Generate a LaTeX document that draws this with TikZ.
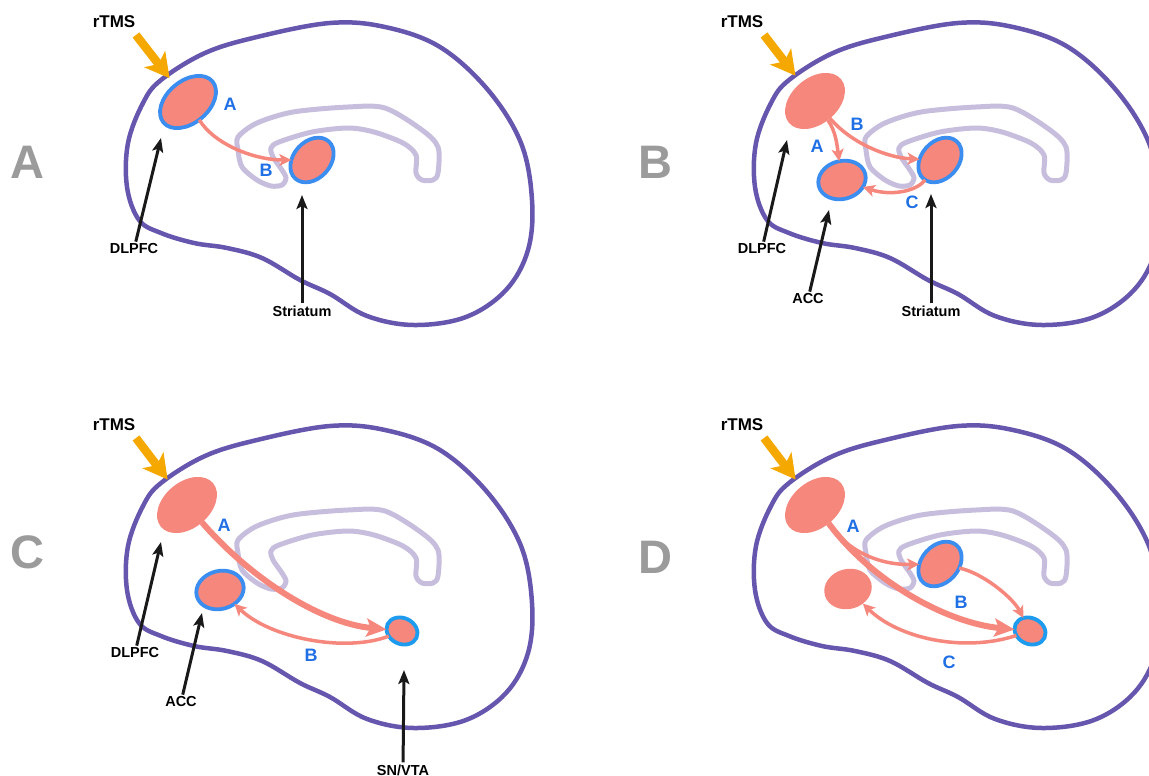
\documentclass[tikz,border=0pt]{standalone}
\usepackage{fontspec}
\setmainfont{Liberation Sans}
\usepackage{tikz}
\usetikzlibrary{arrows.meta,shapes.geometric}

\definecolor{cortex}{HTML}{6656AE}
\definecolor{callosum}{HTML}{C7BEDE}
\definecolor{roi}{HTML}{F5877D}
\definecolor{roiedge}{HTML}{3B8DF0}
\definecolor{snedge}{HTML}{1C9BEF}
\definecolor{pathlbl}{HTML}{1F6FE5}
\definecolor{coil}{HTML}{F5A800}
\definecolor{panelgray}{HTML}{9B9B9B}

% hemisphere outline + corpus callosum, same in every panel
\newcommand{\hemisphere}{%
  \draw[cortex, line width=4.5pt] plot[smooth cycle, tension=0.6] coordinates {
    (161,-80) (205,-53) (257,-37) (330,-23) (385,-27) (440,-47) (488,-90)
    (521,-143) (532,-200) (528,-250) (506,-290) (466,-317) (414,-325)
    (367,-316) (330,-294) (300,-280) (262,-258) (227,-248) (194,-243)
    (161,-233) (139,-220) (127,-187) (128,-143) (143,-103)};
  \draw[callosum, line width=5pt] plot[smooth cycle, tension=0.5] coordinates {
    (238,-137) (257,-123) (293,-112) (348,-107) (385,-108) (422,-130)
    (438,-147) (438,-173) (433,-180) (422,-180) (416,-173) (416,-155)
    (403,-143) (374,-132) (348,-128) (312,-132) (279,-142) (271,-148)
    (273,-157) (282,-170) (286,-178) (282,-185) (271,-186) (257,-180)
    (242,-167) (238,-150)};
}

\begin{document}
\begin{tikzpicture}[x=1pt, y=1pt, font=\bfseries,
    region/.style={ellipse, fill=roi, inner sep=0pt, outer sep=0pt},
    marked/.style={region, draw=roiedge, line width=3.8pt},
    flow/.style={roi, line width=3.5pt, -{Stealth[length=12pt,width=12pt,inset=3pt]}},
    bigflow/.style={roi, line width=6pt, -{Stealth[length=20pt,width=18pt,inset=4pt]}},
    pointer/.style={black!90, line width=3pt, -{Stealth[length=14pt,width=11pt,inset=3pt]}},
    pulse/.style={coil, line width=8.5pt, shorten >=9pt, -{Stealth[length=24pt,width=26pt,inset=6pt]}},
    area/.style={font=\bfseries\fontsize{14.5}{16}\selectfont, inner sep=2pt},
    pathtag/.style={text=pathlbl, font=\bfseries\fontsize{18}{20}\selectfont},
    paneltag/.style={text=panelgray, font=\bfseries\fontsize{47}{50}\selectfont},
    coiltag/.style={font=\bfseries\fontsize{17}{19}\selectfont}]
  \useasboundingbox (0,0) rectangle (1149,-776);

  \node[paneltag] (pA) at (27,-162) {A};
  \node[paneltag] (pB) at (655,-162) {B};
  \node[paneltag] (pC) at (27,-552) {C};
  \node[paneltag] (pD) at (655,-557) {D};

  %panel A: DLPFC -> striatum
  \begin{scope}
    \hemisphere
    \node[marked, minimum width=64pt, minimum height=42pt, rotate=40] (dlA) at (188,-102) {};
    \node[marked, minimum width=50pt, minimum height=37pt, rotate=48] (strA) at (312,-160) {};
    \node[coiltag] (rtmsA) at (114,-22) {rTMS};
    \coordinate (coilA) at (136,-35);
    \draw[pulse] (coilA) -- (dlA);
    \draw[flow] (dlA) .. controls (215,-145) and (255,-160) .. (strA);
    \node[pathtag] (aA) at (230,-104) {A};
    \node[pathtag] (bA) at (266,-170) {B};
    \node[area] (dlLblA) at (134,-249) {DLPFC};
    \node[area] (strLblA) at (302,-311) {Striatum};
    \coordinate (dlTipA) at (161,-138);
    \coordinate (strTipA) at (302,-195);
    \draw[pointer] (dlLblA) -- (dlTipA);
    \draw[pointer] (strLblA) -- (strTipA);
  \end{scope}

  %panel B: DLPFC -> ACC, DLPFC -> striatum -> ACC
  \begin{scope}[shift={(628,0)}]
    \hemisphere
    \node[region, minimum width=68pt, minimum height=46pt, rotate=40] (dlB) at (187,-101) {};
    \node[marked, minimum width=48pt, minimum height=38pt, rotate=15] (accB) at (214,-180) {};
    \node[marked, minimum width=50pt, minimum height=37pt, rotate=48] (strB) at (312,-160) {};
    \node[coiltag] (rtmsB) at (114,-22) {rTMS};
    \coordinate (coilB) at (136,-35);
    \draw[pulse] (coilB) -- (dlB);
    \draw[flow] (dlB) .. controls (208,-132) and (209,-145) .. (accB);
    \draw[flow] (dlB) .. controls (225,-145) and (262,-158) .. (strB);
    \draw[flow] (strB) .. controls (288,-192) and (262,-196) .. (accB);
    \node[pathtag] (aB) at (189,-146) {A};
    \node[pathtag] (bB) at (229,-124) {B};
    \node[pathtag] (cB) at (284,-202) {C};
    \node[area] (dlLblB) at (134,-249) {DLPFC};
    \node[area] (accLblB) at (180,-299) {ACC};
    \node[area] (strLblB) at (303,-311) {Striatum};
    \coordinate (dlTipB) at (159,-140);
    \coordinate (accTipB) at (201,-210);
    \coordinate (strTipB) at (303,-194);
    \draw[pointer] (dlLblB) -- (dlTipB);
    \draw[pointer] (accLblB) -- (accTipB);
    \draw[pointer] (strLblB) -- (strTipB);
  \end{scope}

  %panel C: DLPFC -> SN/VTA -> ACC
  \begin{scope}[shift={(0,-403)}]
    \hemisphere
    \node[region, minimum width=68pt, minimum height=46pt, rotate=40] (dlC) at (187,-102) {};
    \node[marked, minimum width=48pt, minimum height=38pt, rotate=15] (accC) at (220,-187) {};
    \node[marked, draw=snedge, minimum width=32pt, minimum height=26pt, rotate=-25] (snC) at (402,-228) {};
    \node[coiltag] (rtmsC) at (114,-22) {rTMS};
    \coordinate (coilC) at (136,-35);
    \draw[pulse] (coilC) -- (dlC);
    \draw[bigflow] (dlC) .. controls (250,-175) and (320,-220) .. (snC);
    \draw[flow] (snC) .. controls (345,-250) and (270,-235) .. (accC);
    \node[pathtag] (aC) at (224,-122) {A};
    \node[pathtag] (bC) at (311,-252) {B};
    \node[area] (dlLblC) at (135,-250) {DLPFC};
    \node[area] (accLblC) at (181,-299) {ACC};
    \node[area] (snLblC) at (403,-367) {SN/VTA};
    \coordinate (dlTipC) at (161,-139);
    \coordinate (accTipC) at (202,-210);
    \coordinate (snTipC) at (404,-267);
    \draw[pointer] (dlLblC) -- (dlTipC);
    \draw[pointer] (accLblC) -- (accTipC);
    \draw[pointer] (snLblC) -- (snTipC);
  \end{scope}

  %panel D: DLPFC -> striatum -> SN/VTA, DLPFC -> SN/VTA -> ACC
  \begin{scope}[shift={(628,-403)}]
    \hemisphere
    \node[region, minimum width=68pt, minimum height=46pt, rotate=40] (dlD) at (187,-102) {};
    \node[region, minimum width=48pt, minimum height=40pt, rotate=15] (accD) at (220,-186) {};
    \node[marked, minimum width=50pt, minimum height=37pt, rotate=48] (strD) at (312,-161) {};
    \node[marked, draw=snedge, minimum width=32pt, minimum height=26pt, rotate=-25] (snD) at (402,-228) {};
    \node[coiltag] (rtmsD) at (114,-22) {rTMS};
    \coordinate (coilD) at (136,-35);
    \draw[pulse] (coilD) -- (dlD);
    \draw[flow] (dlD) .. controls (220,-148) and (250,-162) .. (strD);
    \draw[bigflow] (dlD) .. controls (245,-180) and (320,-220) .. (snD);
    \draw[flow] (strD) .. controls (355,-170) and (385,-195) .. (snD);
    \draw[flow] (snD) .. controls (335,-250) and (270,-235) .. (accD);
    \node[pathtag] (aD) at (225,-123) {A};
    \node[pathtag] (bD) at (333,-199) {B};
    \node[pathtag] (cD) at (321,-259) {C};
  \end{scope}
\end{tikzpicture}
\end{document}
